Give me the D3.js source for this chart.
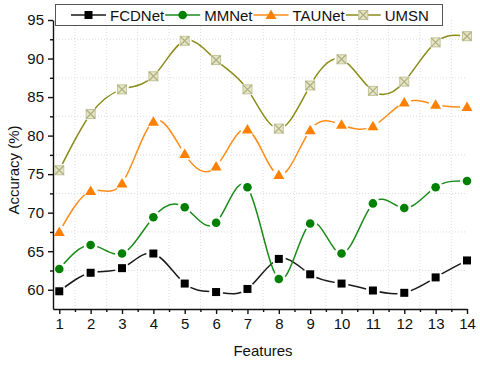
<!DOCTYPE html>
<html>
<head>
<meta charset="utf-8">
<script src="https://cdn.jsdelivr.net/npm/d3@7"></script>
<style>
  body { margin: 0; background: #fff; }
  svg { font-family: "Liberation Sans", Arial, sans-serif; }
</style>
</head>
<body>
<div id="chart"></div>
<script>
// Data
const features = [1, 2, 3, 4, 5, 6, 7, 8, 9, 10, 11, 12, 13, 14];
const fcdnet = [59.8, 62.2, 62.8, 64.7, 60.8, 59.7, 60.1, 64.0, 62.0, 60.8, 59.9, 59.6, 61.6, 63.8];
const mmnet  = [62.7, 65.8, 64.7, 69.4, 70.7, 68.7, 73.3, 61.4, 68.6, 64.7, 71.2, 70.6, 73.3, 74.1];
const taunet = [67.5, 72.8, 73.8, 81.8, 77.6, 76.0, 80.8, 74.9, 80.7, 81.4, 81.2, 84.3, 84.0, 83.7];
const umsn   = [75.5, 82.8, 86.0, 87.7, 92.3, 89.8, 86.0, 80.9, 86.5, 89.9, 85.8, 87.0, 92.1, 92.9];
const yTicks = [60, 65, 70, 75, 80, 85, 90, 95];

const seriesList = [
    { name: "FCDNet", values: fcdnet, line: "#1a1a1a", marker: "square" },
    { name: "MMNet",  values: mmnet,  line: "#1a8c1a", marker: "circle" },
    { name: "TAUNet", values: taunet, line: "#ff8c1a", marker: "triangle" },
    { name: "UMSN",   values: umsn,   line: "#8c8c1a", marker: "xsquare" }
];

const W = 480, H = 371;
const svg = d3.select("#chart").append("svg")
    .attr("width", W)
    .attr("height", H);

// Scales
const x = d3.scaleLinear().domain([0.8, 14]).range([53, 467]);
const y = d3.scaleLinear().domain([57.5, 95]).range([309, 20]);

// Grid (dotted, at the minor positions)
const grid = svg.append("g");
d3.range(1.5, 14, 1).forEach(v => {
    grid.append("line")
        .attr("x1", x(v)).attr("x2", x(v))
        .attr("y1", y(95)).attr("y2", y(57.5))
        .attr("stroke", "#dcdcdc").attr("stroke-dasharray", "1,2");
});
d3.range(62.5, 95, 5).forEach(v => {
    grid.append("line")
        .attr("x1", x(0.8)).attr("x2", x(14))
        .attr("y1", y(v)).attr("y2", y(v))
        .attr("stroke", "#dcdcdc").attr("stroke-dasharray", "1,2");
});

// Axes
const xAxis = svg.append("g")
    .attr("transform", `translate(0,${y(57.5)})`)
    .call(d3.axisBottom(x).tickValues(features).tickFormat(d3.format("d")).tickSize(5).tickSizeOuter(0).tickPadding(4));
const xMinor = svg.append("g")
    .attr("transform", `translate(0,${y(57.5)})`)
    .call(d3.axisBottom(x).tickValues(d3.range(1.5, 14, 1)).tickFormat("").tickSize(3).tickSizeOuter(0));
const yAxis = svg.append("g")
    .attr("transform", `translate(${x(0.8)},0)`)
    .call(d3.axisLeft(y).tickValues(yTicks).tickSize(5).tickSizeOuter(0).tickPadding(4));
const yMinor = svg.append("g")
    .attr("transform", `translate(${x(0.8)},0)`)
    .call(d3.axisLeft(y).tickValues(d3.range(62.5, 95, 5)).tickFormat("").tickSize(3).tickSizeOuter(0));

[xAxis, xMinor, yAxis, yMinor].forEach(g => {
    g.selectAll("path, line").attr("stroke", "#111").attr("stroke-width", 1.4);
    g.selectAll("text").attr("font-size", 15).attr("fill", "#111")
        .attr("font-family", "'Liberation Sans', Arial, sans-serif");
});
xMinor.select(".domain").remove();
yMinor.select(".domain").remove();

// Axis titles
svg.append("text")
    .attr("x", 263).attr("y", 356)
    .attr("text-anchor", "middle")
    .attr("font-size", 15).attr("fill", "#111")
    .text("Features");
svg.append("text")
    .attr("transform", "translate(19,170) rotate(-90)")
    .attr("text-anchor", "middle")
    .attr("font-size", 15).attr("fill", "#111")
    .text("Accuracy (%)");

// Markers
function drawMarker(g, type, color, cx, cy) {
    if (type === "square") {
        g.append("rect").attr("x", cx - 4).attr("y", cy - 4).attr("width", 8).attr("height", 8).attr("fill", "#000");
    } else if (type === "circle") {
        g.append("circle").attr("cx", cx).attr("cy", cy).attr("r", 4.3).attr("fill", "#008000");
    } else if (type === "triangle") {
        g.append("path").attr("d", `M${cx},${cy - 5.5}L${cx + 5.5},${cy + 4}L${cx - 5.5},${cy + 4}Z`).attr("fill", "#ff8000");
    } else {
        g.append("rect").attr("x", cx - 4.5).attr("y", cy - 4.5).attr("width", 9).attr("height", 9)
            .attr("fill", "#e6e6c8").attr("stroke", "#c4c49a").attr("stroke-width", 1);
        g.append("path").attr("d", `M${cx - 4.5},${cy - 4.5}L${cx + 4.5},${cy + 4.5}M${cx + 4.5},${cy - 4.5}L${cx - 4.5},${cy + 4.5}`)
            .attr("stroke", "#b0b080").attr("stroke-width", 1.3);
    }
}

const line = d3.line()
    .x((d, i) => x(features[i]))
    .y(d => y(d))
    .curve(d3.curveNatural);

const defs = svg.append("defs");
seriesList.forEach((s, k) => {
    // mask so the line stops short of each marker
    const mask = defs.append("mask").attr("id", "gap" + k).attr("maskUnits", "userSpaceOnUse")
        .attr("x", 0).attr("y", 0).attr("width", W).attr("height", H);
    mask.append("rect").attr("width", W).attr("height", H).attr("fill", "#fff");
    s.values.forEach((v, i) => {
        mask.append("circle").attr("cx", x(features[i])).attr("cy", y(v)).attr("r", 7).attr("fill", "#000");
    });
    svg.append("path")
        .datum(s.values)
        .attr("d", line)
        .attr("fill", "none")
        .attr("stroke", s.line)
        .attr("stroke-width", 1.5)
        .attr("mask", `url(#gap${k})`);
});
seriesList.forEach(s => {
    const g = svg.append("g");
    s.values.forEach((v, i) => drawMarker(g, s.marker, s.line, x(features[i]), y(v)));
});

// Legend
const legend = svg.append("g");
legend.append("rect")
    .attr("x", 55.5).attr("y", 4.5).attr("width", 387).attr("height", 21)
    .attr("fill", "#fff").attr("stroke", "#555").attr("stroke-width", 1);
let lx = 71;
seriesList.forEach(s => {
    legend.append("line")
        .attr("x1", lx).attr("x2", lx + 35).attr("y1", 15).attr("y2", 15)
        .attr("stroke", s.line).attr("stroke-width", 1.5);
    drawMarker(legend, s.marker, s.line, lx + 17.5, 15);
    const t = legend.append("text")
        .attr("x", lx + 39).attr("y", 20.5)
        .attr("font-size", 15).attr("fill", "#111")
        .text(s.name);
    lx += 39 + t.node().getComputedTextLength() + 1;
});
</script>
</body>
</html>
